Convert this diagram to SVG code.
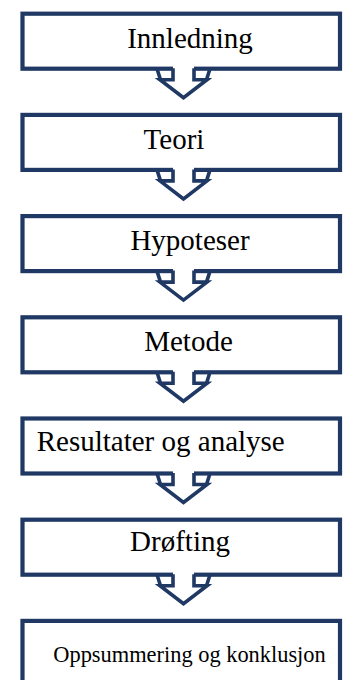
<svg xmlns="http://www.w3.org/2000/svg" width="343" height="680" viewBox="0 0 343 680">
  <style>
    .box { fill: #ffffff; stroke: #1f3864; stroke-width: 4.2; }
    .lbl { font-family: "Liberation Serif", "Times New Roman", serif; font-size: 29px; fill: #000000; }
    .small { font-size: 22.4px; }
    .afill { fill: #ffffff; stroke: none; }
    .aline { fill: none; stroke: #1f3864; stroke-width: 3.6; stroke-linejoin: miter; stroke-miterlimit: 10; }
  </style>
  <defs>
    <g id="arrow">
      <path class="afill" d="M173,-3 L194,-3 L194,11 L207,11 L183.5,29 L160,11 L173,11 Z"/>
      <path class="aline" d="M173,-0.5 L173,11 L160,11 L183.5,29 L207,11 L194,11 L194,-0.5"/>
      <path class="aline" d="M157,0 L160.5,11 M210,0 L206.5,11"/>
    </g>
  </defs>

  <g id="node-innledning">
    <rect class="box" x="22.5" y="13.7" width="317.5" height="55"/>
    <text class="lbl" x="190" y="47.5" text-anchor="middle">Innledning</text>
  </g>
  <g id="node-teori">
    <rect class="box" x="22.5" y="114.9" width="317.5" height="55"/>
    <text class="lbl" x="174" y="148.5" text-anchor="middle">Teori</text>
  </g>
  <g id="node-hypoteser">
    <rect class="box" x="22.5" y="216.1" width="317.5" height="55"/>
    <text class="lbl" x="190" y="249.5" text-anchor="middle">Hypoteser</text>
  </g>
  <g id="node-metode">
    <rect class="box" x="22.5" y="317.3" width="317.5" height="55"/>
    <text class="lbl" x="188.5" y="350.5" text-anchor="middle">Metode</text>
  </g>
  <g id="node-resultater">
    <rect class="box" x="22.5" y="418.5" width="317.5" height="55"/>
    <text class="lbl" x="36.7" y="450.5">Resultater og analyse</text>
  </g>
  <g id="node-drofting">
    <rect class="box" x="22.5" y="519.7" width="317.5" height="55"/>
    <text class="lbl" x="180" y="551" text-anchor="middle">Drøfting</text>
  </g>
  <g id="node-oppsummering">
    <rect class="box" x="22.5" y="620.9" width="317.5" height="80"/>
    <text class="lbl small" x="53.3" y="662">Oppsummering og konklusjon</text>
  </g>

  <g id="connectors">
    <use href="#arrow" transform="translate(0,68.7)"/>
    <use href="#arrow" transform="translate(0,169.9)"/>
    <use href="#arrow" transform="translate(0,271.1)"/>
    <use href="#arrow" transform="translate(0,372.3)"/>
    <use href="#arrow" transform="translate(0,473.5)"/>
    <use href="#arrow" transform="translate(0,574.7)"/>
  </g>
</svg>
